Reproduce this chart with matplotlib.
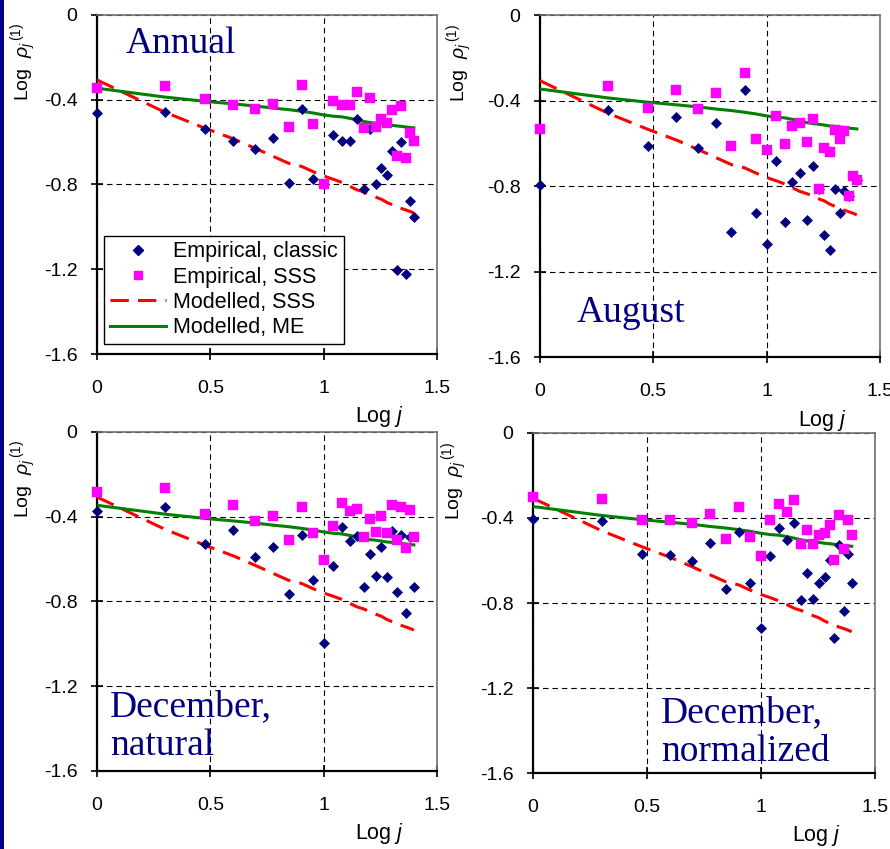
import matplotlib
matplotlib.use("Agg")
import matplotlib.pyplot as plt
from matplotlib.patches import Rectangle
from matplotlib.lines import Line2D

plt.rcParams['font.family'] = ['Liberation Sans', 'DejaVu Sans']
plt.rcParams['mathtext.fontset'] = 'custom'
plt.rcParams['mathtext.rm'] = 'Liberation Sans'
plt.rcParams['mathtext.it'] = 'Liberation Sans:italic'
plt.rcParams['axes.unicode_minus'] = False

# ---------------- data ----------------
LOG_J = [0.000, 0.301, 0.477, 0.602, 0.699, 0.778, 0.845, 0.903, 0.954, 1.000,
         1.041, 1.079, 1.114, 1.146, 1.176, 1.204, 1.230, 1.255, 1.279, 1.301,
         1.322, 1.342, 1.362, 1.380, 1.398]

MODEL_SSS = [-0.307, -0.460, -0.535, -0.585, -0.630, -0.668, -0.700, -0.715, -0.740, -0.760,
             -0.775, -0.790, -0.808, -0.825, -0.835, -0.848, -0.860, -0.870, -0.885, -0.895,
             -0.905, -0.913, -0.920, -0.927, -0.935]
MODEL_ME = [-0.346, -0.388, -0.408, -0.420, -0.430, -0.440, -0.447, -0.455, -0.463, -0.472,
            -0.478, -0.481, -0.488, -0.495, -0.503, -0.508, -0.511, -0.515, -0.519, -0.521,
            -0.524, -0.526, -0.529, -0.531, -0.533]

ANNUAL_CLASSIC = [-0.461, -0.456, -0.538, -0.596, -0.635, -0.582, -0.794, -0.442, -0.775, -0.796,
                  -0.569, -0.596, -0.596, -0.492, -0.821, -0.538, -0.799, -0.723, -0.755, -0.640,
                  -1.203, -0.602, -1.222, -0.877, -0.954]
ANNUAL_SSS = [-0.343, -0.336, -0.396, -0.426, -0.445, -0.421, -0.528, -0.330, -0.516, -0.796,
              -0.406, -0.426, -0.426, -0.362, -0.535, -0.393, -0.528, -0.489, -0.509, -0.450,
              -0.667, -0.432, -0.673, -0.558, -0.593]

AUGUST_CLASSIC = [-0.797, -0.445, -0.611, -0.477, -0.623, -0.503, -1.017, -0.350, -0.928, -1.069,
                  -0.681, -0.970, -0.783, -0.741, -0.961, -0.708, -0.813, -1.031, -1.100, -0.816,
                  -0.924, -0.825, -0.848, -0.753, -0.773]
AUGUST_SSS = [-0.531, -0.334, -0.434, -0.353, -0.442, -0.366, -0.614, -0.270, -0.581, -0.633,
              -0.473, -0.602, -0.519, -0.506, -0.595, -0.488, -0.813, -0.620, -0.641, -0.538,
              -0.580, -0.542, -0.848, -0.753, -0.773]

DEC_NAT_CLASSIC = [-0.371, -0.354, -0.527, -0.461, -0.590, -0.544, -0.763, -0.488, -0.699, -0.994,
                   -0.634, -0.448, -0.513, -0.492, -0.730, -0.577, -0.678, -0.544, -0.684, -0.467,
                   -0.755, -0.486, -0.853, -0.496, -0.730]
DEC_NAT_SSS = [-0.283, -0.266, -0.387, -0.343, -0.418, -0.395, -0.508, -0.356, -0.477, -0.604,
               -0.445, -0.335, -0.373, -0.362, -0.497, -0.412, -0.470, -0.395, -0.478, -0.343,
               -0.510, -0.356, -0.548, -0.368, -0.497]

DEC_NORM_CLASSIC = [-0.403, -0.416, -0.568, -0.574, -0.601, -0.518, -0.734, -0.466, -0.707, -0.919,
                    -0.580, -0.447, -0.504, -0.422, -0.786, -0.657, -0.780, -0.707, -0.676, -0.599,
                    -0.965, -0.529, -0.836, -0.568, -0.707]
DEC_NORM_SSS = [-0.303, -0.309, -0.411, -0.411, -0.425, -0.381, -0.500, -0.348, -0.488, -0.577,
                -0.411, -0.336, -0.373, -0.317, -0.521, -0.456, -0.521, -0.482, -0.469, -0.431,
                -0.596, -0.387, -0.544, -0.411, -0.482]

X_TICKS = [0, 0.5, 1, 1.5]
X_TICK_LABELS = ["0", "0.5", "1", "1.5"]
Y_TICKS = [0, -0.4, -0.8, -1.2, -1.6]
Y_TICK_LABELS = ["0", "-0.4", "-0.8", "-1.2", "-1.6"]

SERIES_LABELS = ["Empirical, classic", "Empirical, SSS", "Modelled, SSS", "Modelled, ME"]
PANEL_TITLES = ["Annual", "August", "December,\nnatural", "December,\nnormalized"]

# ---------------- style ----------------
NAVY = "#00007F"
MAGENTA = "#FF00FF"
RED = "#FF0000"
GREEN = "#008000"

fig = plt.figure(figsize=(8.9, 8.49), dpi=100)
fig.patch.set_facecolor("white")
fig.patches.append(Rectangle((0, 0), 0.0045, 1, transform=fig.transFigure,
                             facecolor="#000090", edgecolor="none", zorder=10))

panels = [
    dict(rect=[0.109, 0.583, 0.382, 0.3995], classic=ANNUAL_CLASSIC, sss=ANNUAL_SSS,
         title=PANEL_TITLES[0], tpos=(0.085, 0.888), ylx=-0.215, legend=True),
    dict(rect=[0.6067, 0.5795, 0.382, 0.4028], classic=AUGUST_CLASSIC, sss=AUGUST_SSS,
         title=PANEL_TITLES[1], tpos=(0.109, 0.102), ylx=-0.235, legend=False),
    dict(rect=[0.109, 0.0919, 0.382, 0.3993], classic=DEC_NAT_CLASSIC, sss=DEC_NAT_SSS,
         title=PANEL_TITLES[2], tpos=(0.038, 0.047), ylx=-0.215, legend=False),
    dict(rect=[0.5989, 0.0895, 0.3842, 0.4005], classic=DEC_NORM_CLASSIC, sss=DEC_NORM_SSS,
         title=PANEL_TITLES[3], tpos=(0.374, 0.035), ylx=-0.228, legend=False),
]

for p in panels:
    ax = fig.add_axes(p["rect"])
    ax.set_xlim(0, 1.5)
    ax.set_ylim(-1.6, 0)
    ax.set_xticks(X_TICKS)
    ax.set_xticklabels(X_TICK_LABELS)
    ax.set_yticks(Y_TICKS)
    ax.set_yticklabels(Y_TICK_LABELS)
    ax.tick_params(direction="inout", length=8, width=1.2, labelsize=14, colors="black")
    ax.tick_params(axis="x", pad=15)
    ax.tick_params(axis="y", pad=10)
    ax.grid(True, color="black", linewidth=0.8, linestyle=(0, (5, 3.5)), zorder=0)
    ax.set_axisbelow(True)
    for s in ("left", "bottom"):
        ax.spines[s].set_linewidth(1.6)
        ax.spines[s].set_color("black")
    for s in ("top", "right"):
        ax.spines[s].set_linewidth(1.2)
        ax.spines[s].set_color("#707070")

    ax.plot(LOG_J, MODEL_SSS, color=RED, linewidth=2.2, linestyle=(0, (6, 3)),
            zorder=3, label=SERIES_LABELS[2])
    ax.plot(LOG_J, MODEL_ME, color=GREEN, linewidth=2.2, zorder=3, label=SERIES_LABELS[3])
    ax.plot(LOG_J, p["classic"], linestyle="none", marker="D", markersize=5.6,
            markerfacecolor=NAVY, markeredgecolor=NAVY, markeredgewidth=0.5,
            zorder=4, clip_on=False, label=SERIES_LABELS[0])
    ax.plot(LOG_J, p["sss"], linestyle="none", marker="s", markersize=6.5,
            markerfacecolor=MAGENTA, markeredgecolor=MAGENTA, markeredgewidth=0.3,
            zorder=5, clip_on=False, label=SERIES_LABELS[1])

    ax.set_xlabel("Log $\\it{j}$", fontsize=15.5)
    ax.xaxis.set_label_coords(0.83, -0.148)
    ax.text(p["ylx"], 0.975, "Log  $\\it{\\rho_j}^{\\,(1)}$", rotation=90,
            transform=ax.transAxes, ha="center", va="top", fontsize=14)

    ax.text(p["tpos"][0], p["tpos"][1], p["title"], transform=ax.transAxes,
            ha="left", va="baseline", fontsize=27, color=NAVY,
            family=["Liberation Serif", "DejaVu Serif"], linespacing=1.15, zorder=6)

    if p["legend"]:
        handles = [
            Line2D([], [], linestyle="none", marker="D", markersize=5.0,
                   markerfacecolor=NAVY, markeredgecolor=NAVY),
            Line2D([], [], linestyle="none", marker="s", markersize=5.5,
                   markerfacecolor=MAGENTA, markeredgecolor=MAGENTA),
            Line2D([], [], color=RED, linewidth=2.2, linestyle=(0, (6, 3))),
            Line2D([], [], color=GREEN, linewidth=2.2),
        ]
        leg = ax.legend(handles, SERIES_LABELS, loc="upper left",
                        bbox_to_anchor=(0.022, 0.348), borderaxespad=0,
                        fontsize=15.5, frameon=True, fancybox=False, framealpha=1,
                        edgecolor="black", handlelength=2.6, handletextpad=0.35,
                        labelspacing=0.2, borderpad=0.25)
        leg.get_frame().set_linewidth(1.0)
        leg.set_zorder(7)

fig.savefig("out.png", dpi=100, facecolor="white")
